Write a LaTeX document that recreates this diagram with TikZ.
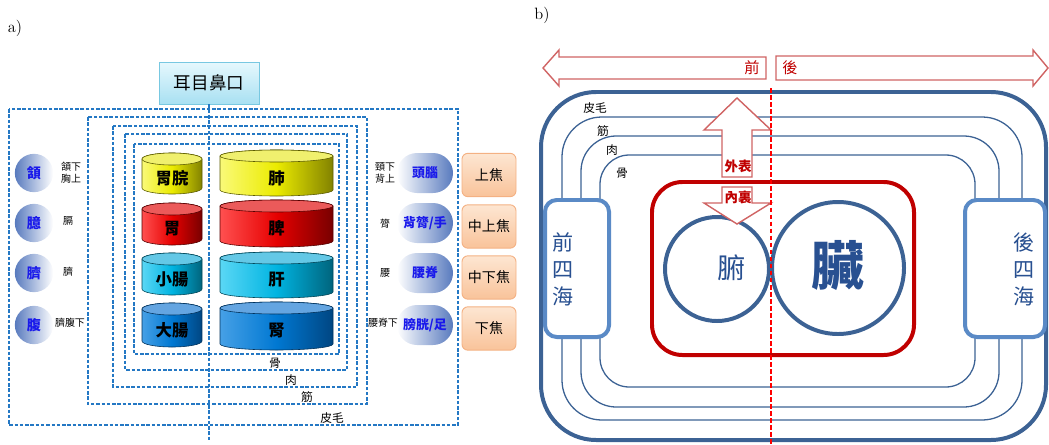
\documentclass[tikz,border=0pt]{standalone}
\usepackage{fontspec}
\newfontfamily\cjk{Noto Sans CJK TC}
\usetikzlibrary{shapes.geometric,shapes.misc}

\definecolor{dashblue}{RGB}{36,120,196}
\definecolor{capblue}{RGB}{88,122,190}
\definecolor{inkblue}{RGB}{25,25,235}
\definecolor{skyedge}{RGB}{120,200,225}
\definecolor{skytop}{RGB}{230,248,253}
\definecolor{skybot}{RGB}{168,224,242}
\definecolor{jiaoedge}{RGB}{244,177,131}
\definecolor{jiaotop}{RGB}{253,230,210}
\definecolor{jiaobot}{RGB}{249,195,154}
\definecolor{frameblue}{RGB}{60,98,148}
\definecolor{seablue}{RGB}{90,138,198}
\definecolor{seatext}{RGB}{40,80,145}
\definecolor{bagred}{RGB}{192,0,0}
\definecolor{arrowpink}{RGB}{208,100,100}
% drum colours: L(eft) M(iddle) D(ark) C(ap)
\definecolor{yelL}{RGB}{250,250,120}
\definecolor{yelM}{RGB}{235,235,0}
\definecolor{yelD}{RGB}{130,130,0}
\definecolor{yelC}{RGB}{240,240,110}
\definecolor{redL}{RGB}{255,80,80}
\definecolor{redM}{RGB}{230,0,0}
\definecolor{redD}{RGB}{120,0,0}
\definecolor{redC}{RGB}{235,90,90}
\definecolor{cyaL}{RGB}{90,215,245}
\definecolor{cyaM}{RGB}{0,180,225}
\definecolor{cyaD}{RGB}{0,100,125}
\definecolor{cyaC}{RGB}{100,200,230}
\definecolor{bluL}{RGB}{70,160,230}
\definecolor{bluM}{RGB}{0,120,210}
\definecolor{bluD}{RGB}{0,70,130}
\definecolor{bluC}{RGB}{100,165,225}

% \drum{name}{centre x}{top y}{bottom y}{half width}{colour set}{text}
\newcommand{\drum}[7]{%
  \shadedraw[left color=#6L, right color=#6D, middle color=#6M, draw=#6D!70!black, line width=0.5pt]
    (#2-#5,-#3-6) -- (#2-#5,-#4+6) arc[start angle=180, end angle=360, x radius=#5, y radius=6]
    -- (#2+#5,-#3-6) arc[start angle=0, end angle=180, x radius=#5, y radius=6] -- cycle;
  \filldraw[fill=#6C, draw=#6D!70!black, line width=0.5pt] (#2,-#3-6) ellipse[x radius=#5, y radius=6];
  \node[drumtext] (#1) at (#2,-#3/2-#4/2-5) {#7};
}

\begin{document}
\begin{tikzpicture}[x=0.03cm, y=0.03cm,
    wrap/.style={draw=dashblue, line width=1.2pt, dash pattern=on 3pt off 1.5pt},
    note/.style={font=\cjk\fontsize{8.5}{10}\selectfont, align=center, inner sep=0pt},
    shell/.style={font=\cjk\fontsize{10}{12}\selectfont, inner sep=0pt},
    drumtext/.style={font=\cjk\bfseries\fontsize{14}{16}\selectfont, inner sep=0pt},
    ball/.style={circle, minimum size=1.15cm, inner sep=0pt, left color=capblue, right color=white, font=\cjk\bfseries\fontsize{12}{14}\selectfont, text=inkblue},
    pill/.style={rounded rectangle, minimum width=1.68cm, minimum height=1.2cm, inner sep=0pt, left color=white, right color=capblue, font=\cjk\bfseries\fontsize{11}{13}\selectfont, text=inkblue},
    jiao/.style={rectangle, rounded corners=5pt, draw=jiaoedge, line width=0.8pt, top color=jiaotop, bottom color=jiaobot, minimum width=1.62cm, minimum height=1.3cm, font=\cjk\fontsize{12}{14}\selectfont},
    hull/.style={draw=frameblue, line width=3.4pt},
    ring/.style={draw=frameblue, line width=1.1pt},
    sea/.style={rectangle, draw=seablue, line width=3.4pt, fill=white, rounded corners=10pt, minimum height=4.11cm},
    seatxt/.style={font=\cjk\fontsize{18}{23}\selectfont, text=seatext, align=center, inner sep=0pt},
    organ/.style={circle, draw=frameblue, line width=3.4pt, inner sep=0pt},
    flow/.style={draw=arrowpink, fill=white, line width=1.2pt, line join=miter},
    flowtxt/.style={font=\cjk\bfseries\fontsize{11.5}{13}\selectfont, text=bagred, inner sep=1pt},
    midcut/.style={draw=red, line width=1.3pt, dash pattern=on 4pt off 2pt}
  ]
  \useasboundingbox (0,0) rectangle (1049,-444);

  % ---------------- a) ----------------
  \node[font=\fontsize{14}{16}\selectfont] (tagA) at (15,-28) {a)};
  \node[rectangle, draw=skyedge, line width=0.8pt, top color=skytop, bottom color=skybot,
        minimum width=3cm, minimum height=1.26cm, font=\cjk\fontsize{15}{17}\selectfont] (ermu) at (209,-83) {耳目鼻口};

  % nested layers
  \draw[wrap] (9,-109) rectangle (458,-425);
  \draw[wrap] (88,-117) rectangle (367,-404);
  \draw[wrap] (113,-126) rectangle (357,-387);
  \draw[wrap] (125,-134) rectangle (347,-370);
  \draw[wrap] (134,-144) rectangle (339,-354);
  \node[shell] (guA) at (275,-363) {骨};
  \node[shell] (rouA) at (291,-380) {肉};
  \node[shell] (jinA) at (307,-397) {筋};
  \node[shell] (pimaoA) at (332,-418) {皮毛};

  % organs
  \drum{weiwan}{172}{153}{194}{30}{yel}{胃脘}
  \drum{wei}{172}{203}{245}{30}{red}{胃}
  \drum{xiaochang}{172}{253}{295}{30}{cya}{小腸}
  \drum{dachang}{172}{303}{347}{30}{blu}{大腸}
  \drum{fei}{276.5}{150}{196}{56.5}{yel}{肺}
  \drum{pi}{276.5}{200}{247}{56.5}{red}{脾}
  \drum{gan}{276.5}{252}{298}{56.5}{cya}{肝}
  \drum{shen}{276.5}{302}{350}{56.5}{blu}{腎}

  \coordinate (axisend) at (209,-440);
  \draw[wrap] (ermu.south) -- (axisend);

  % front side
  \node[ball] (han) at (34,-173) {頷};
  \node[ball] (yi) at (34,-223) {臆};
  \node[ball] (qi) at (34,-273) {臍};
  \node[ball] (fu) at (34,-325) {腹};
  \node[note] (hanx) at (71,-173) {頷下\\胸上};
  \node[note] (ge) at (68,-221) {膈};
  \node[note] (qix) at (68,-272) {臍};
  \node[note] (qifu) at (70,-323) {臍腹下};

  % back side
  \node[pill] (tounao) at (425,-173) {頭腦};
  \node[pill] (beilv) at (425,-223) {背膂/手};
  \node[pill] (yaoji) at (425,-273) {腰脊};
  \node[pill] (pangguang) at (425,-325) {膀胱/足};
  \node[note] (jingx) at (385,-173) {頸下\\背上};
  \node[note] (lv) at (385,-224) {膂};
  \node[note] (yao) at (385,-273) {腰};
  \node[note] (yaojix) at (383,-323) {腰脊下};

  % three burners
  \node[jiao] (shangjiao) at (489,-175) {上焦};
  \node[jiao] (zhongshang) at (489,-226.5) {中上焦};
  \node[jiao] (zhongxia) at (489,-277.5) {中下焦};
  \node[jiao] (xiajiao) at (489,-328.5) {下焦};

  % ---------------- b) ----------------
  \node[font=\fontsize{14}{16}\selectfont] (tagB) at (542,-15) {b)};

  % front / back arrows
  \draw[flow] (543,-68) -- (559,-50) -- (559,-57) -- (766,-57) -- (766,-79) -- (559,-79) -- (559,-86) -- cycle;
  \draw[flow] (1048,-68) -- (1033,-50) -- (1033,-56) -- (776,-56) -- (776,-80) -- (1033,-80) -- (1033,-86) -- cycle;
  \node[flowtxt, font=\cjk\fontsize{13}{15}\selectfont] (qian) at (752,-68) {前};
  \node[flowtxt, font=\cjk\fontsize{13}{15}\selectfont] (hou) at (790,-68) {後};

  % body layers
  \draw[hull, rounded corners=47pt] (541,-92) rectangle (1046,-440);
  \draw[ring, rounded corners=34pt] (562,-117) rectangle (1022,-420);
  \draw[ring, rounded corners=30pt] (581,-136) rectangle (999,-407);
  \draw[ring, rounded corners=25pt] (600,-155) rectangle (975,-387);
  \node[shell] (pimaoB) at (595,-108) {皮毛};
  \node[shell] (jinB) at (603,-131) {筋};
  \node[shell] (rouB) at (612,-150) {肉};
  \node[shell] (guB) at (622,-173) {骨};

  % four seas
  \node[sea, minimum width=1.92cm] (qiansea) at (577,-268.5) {};
  \node[sea, minimum width=2.4cm] (housea) at (1005,-268.5) {};
  \node[seatxt] (qiansihai) at (563,-269) {前\\四\\海};
  \node[seatxt] (housihai) at (1024,-269) {後\\四\\海};

  % viscera
  \node[draw=bagred, line width=3.4pt, rounded corners=26pt, minimum width=7.86cm, minimum height=5.19cm] (bag) at (783,-268.5) {};
  \node[organ, minimum size=3.12cm] (fuorg) at (717,-269) {};
  \node[organ, minimum size=3.96cm] (zang) at (838,-268) {};
  \node[font=\cjk\fontsize{24}{26}\selectfont, text=seatext] (fulbl) at (732,-268) {腑};
  \node[font=\cjk\bfseries\fontsize{45}{48}\selectfont, text=seatext] (zanglbl) at (838,-265) {臟};

  % outside / inside
  \draw[flow] (737,-98) -- (771,-130) -- (752,-130) -- (752,-177) -- (722,-177) -- (722,-130) -- (704,-130) -- cycle;
  \draw[flow] (737,-224) -- (771,-203) -- (752,-203) -- (752,-187) -- (722,-187) -- (722,-203) -- (704,-203) -- cycle;
  \node[flowtxt] (waibiao) at (738,-166) {外表};
  \node[flowtxt] (neili) at (738,-197) {內裏};

  \coordinate (cuttop) at (771,-88);
  \coordinate (cutbot) at (771,-444);
  \draw[midcut] (cuttop) -- (cutbot);
\end{tikzpicture}
\end{document}
